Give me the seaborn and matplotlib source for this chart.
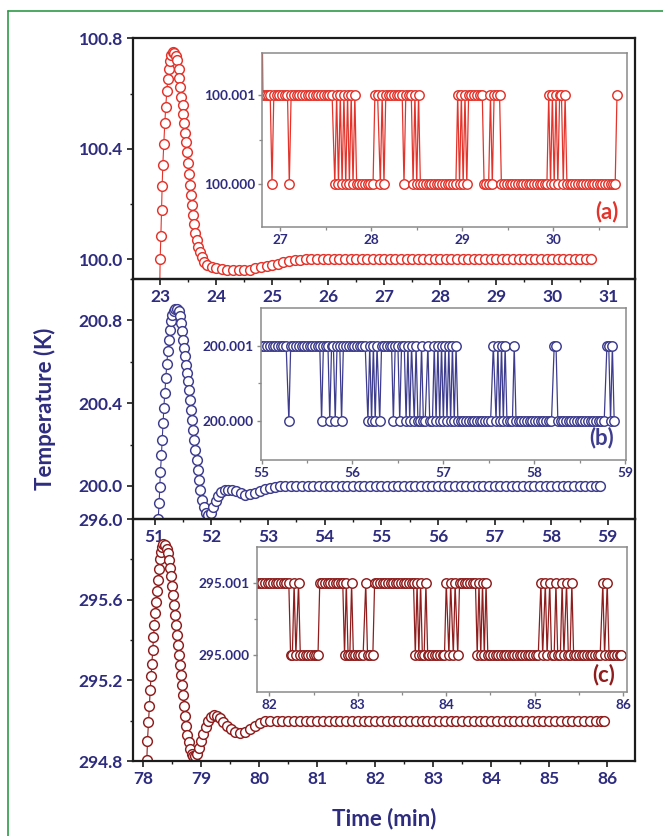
import matplotlib
matplotlib.use("Agg")
import matplotlib.pyplot as plt
from matplotlib.lines import Line2D
from matplotlib.ticker import MultipleLocator, FixedLocator, FormatStrFormatter
import pandas as pd
import seaborn as sns

# ---------------- data ----------------
# panel (a): main response, time (min) / temperature (K)
a_t = [22.990, 23.000, 23.013, 23.025, 23.036, 23.048, 23.065, 23.083, 23.100, 23.120,
       23.137, 23.155, 23.173, 23.196, 23.226, 23.256, 23.286, 23.310, 23.330, 23.345,
       23.363, 23.380, 23.400, 23.417, 23.435, 23.452, 23.470, 23.488, 23.506, 23.524,
       23.540, 23.560, 23.577, 23.595, 23.613, 23.630, 23.655, 23.685, 23.714, 23.750,
       23.790, 23.845, 23.920, 24.000, 24.100, 24.200, 24.300, 24.400, 24.500, 24.600,
       24.700, 24.800, 24.900, 25.000, 25.100, 25.200, 25.300, 25.400, 25.500, 25.600,
       25.7, 25.8, 25.9, 26.0, 26.1, 26.2, 26.3, 26.4, 26.5, 26.6,
       26.7, 26.8, 26.9, 27.0, 27.1, 27.2, 27.3, 27.4, 27.5, 27.6,
       27.7, 27.8, 27.9, 28.0, 28.1, 28.2, 28.3, 28.4, 28.5, 28.6,
       28.7, 28.8, 28.9, 29.0, 29.1, 29.2, 29.3, 29.4, 29.5, 29.6,
       29.7, 29.8, 29.9, 30.0, 30.1, 30.2, 30.3, 30.4, 30.5, 30.6,
       30.7]
a_v = [99.850, 100.000, 100.085, 100.177, 100.267, 100.342, 100.417, 100.492, 100.553, 100.610,
       100.654, 100.688, 100.719, 100.739, 100.749, 100.747, 100.737, 100.720, 100.690, 100.658,
       100.625, 100.589, 100.557, 100.525, 100.492, 100.458, 100.424, 100.388, 100.349, 100.310,
       100.270, 100.234, 100.198, 100.161, 100.128, 100.097, 100.070, 100.046, 100.025, 100.007,
       99.992, 99.979, 99.971, 99.967, 99.964, 99.962, 99.961, 99.961, 99.961, 99.963,
       99.967, 99.971, 99.976, 99.981, 99.985, 99.989, 99.993, 99.996, 99.999, 100.001,
       100.002, 100.003, 100.003, 100.003, 100.002, 100.002, 100.001, 100.001, 100.000, 100.000,
       100.000, 100.000, 100.000, 100.000, 100.000, 100.000, 100.000, 100.000, 100.000, 100.000,
       100.000, 100.000, 100.000, 100.000, 100.000, 100.000, 100.000, 100.000, 100.000, 100.000,
       100.000, 100.000, 100.000, 100.000, 100.000, 100.000, 100.000, 100.000, 100.000, 100.000,
       100.000, 100.000, 100.000, 100.000, 100.000, 100.000, 100.000, 100.000, 100.000, 100.000,
       100.000]

# panel (b)
b_t = [51.055, 51.059, 51.077, 51.088, 51.100, 51.118, 51.130, 51.147, 51.159, 51.177,
       51.195, 51.212, 51.230, 51.247, 51.265, 51.289, 51.312, 51.336, 51.365, 51.395,
       51.424, 51.448, 51.465, 51.483, 51.501, 51.518, 51.536, 51.554, 51.572, 51.589,
       51.607, 51.625, 51.642, 51.660, 51.678, 51.695, 51.713, 51.737, 51.760, 51.784,
       51.807, 51.837, 51.866, 51.901, 51.943, 51.984, 52.031, 52.078, 52.125, 52.178,
       52.237, 52.296, 52.355, 52.432, 52.515, 52.591, 52.680, 52.768, 52.856, 52.945,
       53.033, 53.121, 53.210, 53.298, 53.4, 53.5, 53.6, 53.7, 53.8, 53.9,
       54.0, 54.1, 54.2, 54.3, 54.4, 54.5, 54.6, 54.7, 54.8, 54.9,
       55.0, 55.1, 55.2, 55.3, 55.4, 55.5, 55.6, 55.7, 55.8, 55.9,
       56.0, 56.1, 56.2, 56.3, 56.4, 56.5, 56.6, 56.7, 56.8, 56.9,
       57.0, 57.1, 57.2, 57.3, 57.4, 57.5, 57.6, 57.7, 57.8, 57.9,
       58.0, 58.1, 58.2, 58.3, 58.4, 58.5, 58.6, 58.7, 58.8, 58.86]
b_v = [199.700, 199.839, 199.916, 199.997, 200.069, 200.150, 200.223, 200.303, 200.376, 200.448,
       200.521, 200.590, 200.650, 200.706, 200.755, 200.795, 200.827, 200.847, 200.857, 200.855,
       200.844, 200.819, 200.787, 200.747, 200.706, 200.666, 200.626, 200.586, 200.545, 200.505,
       200.465, 200.416, 200.368, 200.319, 200.271, 200.223, 200.174, 200.126, 200.077, 200.029,
       199.981, 199.932, 199.897, 199.871, 199.858, 199.871, 199.900, 199.929, 199.952, 199.971,
       199.979, 199.981, 199.979, 199.974, 199.965, 199.958, 199.961, 199.968, 199.977, 199.984,
       199.990, 199.995, 199.998, 200.000, 200.000, 200.000, 200.000, 200.000, 200.000, 200.000,
       200.000, 200.000, 200.000, 200.000, 200.000, 200.000, 200.000, 200.000, 200.000, 200.000,
       200.000, 200.000, 200.000, 200.000, 200.000, 200.000, 200.000, 200.000, 200.000, 200.000,
       200.000, 200.000, 200.000, 200.000, 200.000, 200.000, 200.000, 200.000, 200.000, 200.000,
       200.000, 200.000, 200.000, 200.000, 200.000, 200.000, 200.000, 200.000, 200.000, 200.000,
       200.000, 200.000, 200.000, 200.000, 200.000, 200.000, 200.000, 200.000, 200.000, 200.000]

# panel (c)
c_t = [78.058, 78.063, 78.075, 78.092, 78.109, 78.121, 78.138, 78.149, 78.167, 78.178,
       78.195, 78.213, 78.224, 78.241, 78.259, 78.270, 78.287, 78.305, 78.322, 78.351,
       78.379, 78.408, 78.431, 78.448, 78.466, 78.483, 78.500, 78.517, 78.534, 78.552,
       78.569, 78.586, 78.603, 78.621, 78.638, 78.655, 78.672, 78.690, 78.707, 78.724,
       78.741, 78.764, 78.787, 78.810, 78.839, 78.868, 78.902, 78.937, 78.971, 79.006,
       79.040, 79.080, 79.121, 79.167, 79.219, 79.270, 79.328, 79.385, 79.443, 79.512,
       79.586, 79.672, 79.759, 79.845, 79.931, 80.017, 80.103, 80.190, 80.300, 80.400,
       80.5, 80.6, 80.7, 80.8, 80.9, 81.0, 81.1, 81.2, 81.3, 81.4,
       81.5, 81.6, 81.7, 81.8, 81.9, 82.0, 82.1, 82.2, 82.3, 82.4,
       82.5, 82.6, 82.7, 82.8, 82.9, 83.0, 83.1, 83.2, 83.3, 83.4,
       83.5, 83.6, 83.7, 83.8, 83.9, 84.0, 84.1, 84.2, 84.3, 84.4,
       84.5, 84.6, 84.7, 84.8, 84.9, 85.0, 85.1, 85.2, 85.3, 85.4,
       85.5, 85.6, 85.7, 85.8, 85.9, 85.95]
c_v = [294.700, 294.803, 294.900, 294.992, 295.075, 295.153, 295.220, 295.283, 295.350, 295.417,
       295.475, 295.533, 295.587, 295.642, 295.700, 295.753, 295.800, 295.837, 295.862, 295.875,
       295.870, 295.853, 295.830, 295.797, 295.758, 295.717, 295.670, 295.625, 295.575, 295.525,
       295.475, 295.425, 295.375, 295.325, 295.275, 295.225, 295.175, 295.125, 295.075, 295.025,
       294.975, 294.930, 294.892, 294.858, 294.837, 294.825, 294.823, 294.837, 294.863, 294.897,
       294.933, 294.967, 294.997, 295.017, 295.027, 295.025, 295.013, 294.993, 294.973, 294.957,
       294.945, 294.940, 294.945, 294.958, 294.975, 294.988, 294.997, 295.000, 295.000, 295.000,
       295.000, 295.000, 295.000, 295.000, 295.000, 295.000, 295.000, 295.000, 295.000, 295.000,
       295.000, 295.000, 295.000, 295.000, 295.000, 295.000, 295.000, 295.000, 295.000, 295.000,
       295.000, 295.000, 295.000, 295.000, 295.000, 295.000, 295.000, 295.000, 295.000, 295.000,
       295.000, 295.000, 295.000, 295.000, 295.000, 295.000, 295.000, 295.000, 295.000, 295.000,
       295.000, 295.000, 295.000, 295.000, 295.000, 295.000, 295.000, 295.000, 295.000, 295.000,
       295.000, 295.000, 295.000, 295.000, 295.000, 295.000]

# insets: time (min) and level above the set point in mK
a_set = 100.000
a_in_t = [26.80, 26.81, 26.84, 26.87, 26.89, 26.91, 26.93, 26.96, 26.99, 27.02,
          27.05, 27.08, 27.10, 27.12, 27.15, 27.18, 27.21, 27.24, 27.27, 27.30,
          27.33, 27.36, 27.39, 27.42, 27.45, 27.48, 27.51, 27.54, 27.57, 27.60,
          27.62, 27.64, 27.66, 27.68, 27.70, 27.72, 27.74, 27.76, 27.78, 27.80,
          27.82, 27.84, 27.87, 27.90, 27.93, 27.96, 27.99, 28.02, 28.04, 28.07,
          28.10, 28.12, 28.14, 28.16, 28.19, 28.22, 28.25, 28.28, 28.31, 28.34,
          28.36, 28.38, 28.41, 28.44, 28.46, 28.48, 28.50, 28.52, 28.54, 28.57,
          28.60, 28.63, 28.66, 28.69, 28.72, 28.75, 28.78, 28.81, 28.84, 28.87,
          28.90, 28.93, 28.95, 28.97, 28.99, 29.01, 29.03, 29.05, 29.07, 29.10,
          29.13, 29.16, 29.19, 29.22, 29.24, 29.26, 29.29, 29.31, 29.33, 29.35,
          29.38, 29.41, 29.43, 29.46, 29.49, 29.52, 29.55, 29.58, 29.61, 29.64,
          29.67, 29.70, 29.73, 29.76, 29.79, 29.82, 29.85, 29.88, 29.91, 29.93,
          29.95, 29.97, 29.99, 30.01, 30.03, 30.05, 30.07, 30.09, 30.11, 30.13,
          30.15, 30.18, 30.21, 30.24, 30.27, 30.30, 30.33, 30.36, 30.39, 30.42,
          30.45, 30.48, 30.51, 30.54, 30.57, 30.60, 30.63, 30.66, 30.68, 30.70]
a_in_mk = [2, 1, 1, 1, 1, 0, 1, 1, 1, 1,
           1, 1, 0, 1, 1, 1, 1, 1, 1, 1,
           1, 1, 1, 1, 1, 1, 1, 1, 1, 0,
           1, 0, 1, 0, 1, 0, 1, 0, 1, 0,
           1, 0, 0, 0, 0, 0, 0, 0, 1, 1,
           0, 1, 0, 1, 1, 1, 1, 1, 1, 1,
           0, 1, 1, 1, 0, 1, 0, 1, 0, 0,
           0, 0, 0, 0, 0, 0, 0, 0, 0, 0,
           0, 0, 1, 0, 1, 0, 1, 0, 1, 1,
           1, 1, 1, 1, 0, 0, 0, 1, 0, 1,
           1, 1, 0, 0, 0, 0, 0, 0, 0, 0,
           0, 0, 0, 0, 0, 0, 0, 0, 0, 0,
           1, 0, 1, 0, 1, 0, 1, 1, 0, 1,
           0, 0, 0, 0, 0, 0, 0, 0, 0, 0,
           0, 0, 0, 0, 0, 0, 0, 0, 0, 1]

b_set = 200.000
b_in_t = [55.00, 55.03, 55.06, 55.09, 55.12, 55.15, 55.18, 55.21, 55.24, 55.27,
          55.30, 55.32, 55.35, 55.38, 55.41, 55.44, 55.47, 55.50, 55.53, 55.56,
          55.59, 55.62, 55.64, 55.66, 55.68, 55.71, 55.73, 55.75, 55.77, 55.79,
          55.81, 55.83, 55.86, 55.88, 55.90, 55.93, 55.96, 55.99, 56.02, 56.05,
          56.08, 56.11, 56.14, 56.17, 56.19, 56.21, 56.23, 56.25, 56.27, 56.30,
          56.32, 56.35, 56.38, 56.41, 56.43, 56.45, 56.47, 56.50, 56.52, 56.54,
          56.57, 56.59, 56.61, 56.63, 56.65, 56.68, 56.70, 56.72, 56.74, 56.76,
          56.78, 56.80, 56.83, 56.85, 56.88, 56.90, 56.92, 56.94, 56.96, 56.98,
          57.00, 57.02, 57.04, 57.06, 57.08, 57.10, 57.12, 57.14, 57.16, 57.19,
          57.22, 57.25, 57.28, 57.31, 57.34, 57.37, 57.40, 57.43, 57.46, 57.49,
          57.52, 57.55, 57.58, 57.60, 57.62, 57.64, 57.66, 57.68, 57.70, 57.73,
          57.76, 57.78, 57.80, 57.83, 57.86, 57.89, 57.92, 57.95, 57.98, 58.01,
          58.04, 58.07, 58.10, 58.13, 58.16, 58.19, 58.22, 58.24, 58.26, 58.29,
          58.32, 58.35, 58.38, 58.41, 58.44, 58.47, 58.50, 58.53, 58.56, 58.59,
          58.62, 58.65, 58.68, 58.71, 58.74, 58.77, 58.80, 58.82, 58.84, 58.86,
          58.88]
b_in_mk = [1, 1, 1, 1, 1, 1, 1, 1, 1, 1,
           0, 1, 1, 1, 1, 1, 1, 1, 1, 1,
           1, 1, 1, 0, 1, 1, 1, 0, 1, 1,
           0, 1, 1, 0, 1, 1, 1, 1, 1, 1,
           1, 1, 1, 0, 1, 0, 1, 0, 1, 0,
           1, 1, 1, 1, 1, 0, 1, 1, 0, 1,
           1, 0, 1, 0, 1, 0, 1, 0, 0, 1,
           0, 0, 1, 0, 0, 1, 0, 1, 0, 1,
           0, 1, 0, 1, 0, 1, 0, 1, 0, 0,
           0, 0, 0, 0, 0, 0, 0, 0, 0, 0,
           0, 1, 0, 1, 0, 1, 0, 1, 0, 0,
           0, 1, 0, 0, 0, 0, 0, 0, 0, 0,
           0, 0, 0, 0, 0, 0, 1, 1, 0, 0,
           0, 0, 0, 0, 0, 0, 0, 0, 0, 0,
           0, 0, 0, 0, 0, 0, 1, 1, 0, 1,
           0]

c_set = 295.000
c_in_t = [81.86, 81.89, 81.92, 81.95, 81.98, 82.01, 82.04, 82.07, 82.10, 82.13,
          82.16, 82.19, 82.22, 82.24, 82.26, 82.28, 82.30, 82.33, 82.35, 82.38,
          82.41, 82.44, 82.47, 82.50, 82.53, 82.55, 82.57, 82.60, 82.63, 82.66,
          82.69, 82.72, 82.75, 82.78, 82.81, 82.83, 82.85, 82.87, 82.89, 82.91,
          82.93, 82.95, 82.97, 83.00, 83.03, 83.06, 83.09, 83.11, 83.14, 83.17,
          83.19, 83.22, 83.25, 83.28, 83.31, 83.34, 83.37, 83.40, 83.43, 83.46,
          83.49, 83.52, 83.55, 83.58, 83.61, 83.63, 83.65, 83.67, 83.69, 83.71,
          83.73, 83.75, 83.77, 83.79, 83.81, 83.84, 83.87, 83.90, 83.93, 83.96,
          83.98, 84.00, 84.03, 84.05, 84.08, 84.10, 84.13, 84.15, 84.18, 84.21,
          84.24, 84.27, 84.30, 84.33, 84.35, 84.37, 84.39, 84.41, 84.43, 84.45,
          84.47, 84.50, 84.53, 84.56, 84.59, 84.62, 84.65, 84.68, 84.71, 84.74,
          84.77, 84.80, 84.83, 84.86, 84.89, 84.92, 84.95, 84.98, 85.01, 85.04,
          85.07, 85.09, 85.12, 85.14, 85.17, 85.19, 85.22, 85.24, 85.26, 85.29,
          85.31, 85.33, 85.36, 85.38, 85.40, 85.42, 85.44, 85.47, 85.50, 85.53,
          85.56, 85.59, 85.62, 85.65, 85.68, 85.71, 85.74, 85.77, 85.79, 85.82,
          85.84, 85.87, 85.90, 85.93, 85.96, 85.98]
c_in_mk = [1, 1, 1, 1, 1, 1, 1, 1, 1, 1,
           1, 1, 1, 0, 0, 1, 0, 1, 0, 0,
           0, 0, 0, 0, 0, 0, 1, 1, 1, 1,
           1, 1, 1, 1, 1, 1, 0, 1, 0, 0,
           1, 0, 0, 0, 0, 0, 1, 0, 0, 0,
           1, 1, 1, 1, 1, 1, 1, 1, 1, 1,
           1, 1, 1, 1, 1, 1, 0, 1, 0, 1,
           0, 0, 1, 0, 0, 0, 0, 0, 0, 0,
           0, 1, 0, 1, 0, 1, 0, 1, 1, 1,
           1, 1, 1, 1, 0, 1, 0, 1, 0, 1,
           0, 0, 0, 0, 0, 0, 0, 0, 0, 0,
           0, 0, 0, 0, 0, 0, 0, 0, 0, 0,
           1, 0, 1, 0, 1, 0, 0, 1, 0, 0,
           1, 0, 1, 0, 0, 1, 0, 0, 0, 0,
           0, 0, 0, 0, 0, 0, 0, 1, 0, 1,
           0, 0, 0, 0, 0, 0]

main_xticks = {"a": [23, 24, 25, 26, 27, 28, 29, 30, 31],
               "b": [51, 52, 53, 54, 55, 56, 57, 58, 59],
               "c": [78, 79, 80, 81, 82, 83, 84, 85, 86]}
main_yticks = {"a": [100.0, 100.4, 100.8],
               "b": [200.0, 200.4, 200.8],
               "c": [294.8, 295.2, 295.6, 296.0]}
inset_xticks = {"a": [27, 28, 29, 30],
                "b": [55, 56, 57, 58, 59],
                "c": [82, 83, 84, 85, 86]}
panel_tags = ["(a)", "(b)", "(c)"]

# ---------------- style ----------------
sns.set_style("ticks")
plt.rcParams["font.family"] = ["Lato", "DejaVu Sans"]
plt.rcParams["font.weight"] = "bold"

RED = "#e3342b"
BLUE = "#3d3c8e"
BROWN = "#8f1d1d"
NAVY = "#2e2c7e"
SPINE = "#1c1c1c"
GREY = "#8a8a8a"

fig = plt.figure(figsize=(6.63, 8.36), dpi=100)
fig.patch.set_facecolor("white")

W, H = 663.0, 836.0


def frac(l, t, r, b):
    return [l / W, 1 - b / H, (r - l) / W, (b - t) / H]


main_boxes = [frac(132.7, 38.3, 635, 279), frac(132.7, 279, 635, 519),
              frac(132.7, 519, 635, 761)]
main_xlim = [(22.51, 31.48), (50.61, 59.48), (77.82, 86.48)]
main_ylim = [(99.929, 100.8), (199.84, 201.0), (294.8, 296.0)]
inset_boxes = [frac(262, 53, 627, 227), frac(260.7, 308.3, 626, 460),
               frac(256.7, 547.3, 626.7, 691.7)]
inset_xlim = [(26.80, 30.81), (54.99, 59.01), (81.857, 86.04)]
inset_ylim = [(99.99952, 100.00147), (199.999482, 200.0014966),
              (294.99949, 295.0015)]
tag_pos = [(0.945, 0.09), (0.933, 0.145), (0.939, 0.118)]

colors = [RED, BLUE, BROWN]
mains = [(a_t, a_v), (b_t, b_v), (c_t, c_v)]
insets = [(a_in_t, a_in_mk, a_set), (b_in_t, b_in_mk, b_set),
          (c_in_t, c_in_mk, c_set)]
keys = ["a", "b", "c"]


def series(ax, t, v, color, ms, lw):
    df = pd.DataFrame({"t": t, "v": v})
    sns.lineplot(data=df, x="t", y="v", ax=ax, color=color, lw=lw,
                 marker="o", markersize=ms, markeredgewidth=1.05,
                 markeredgecolor=color, markerfacecolor="white",
                 estimator=None, sort=False)
    for ln in ax.lines:
        ln.set_markerfacecolor("white")
    ax.set_xlabel("")
    ax.set_ylabel("")


main_axes = []
for i, k in enumerate(keys):
    ax = fig.add_axes(main_boxes[i])
    ax.set_facecolor("none")
    series(ax, mains[i][0], mains[i][1], colors[i], 7.0, 0.8)
    ax.set_xlim(*main_xlim[i])
    ax.set_ylim(*main_ylim[i])
    ax.set_xticks(main_xticks[k])
    ax.set_yticks(main_yticks[k])
    ax.xaxis.set_major_formatter(FormatStrFormatter("%d"))
    ax.yaxis.set_major_formatter(FormatStrFormatter("%.1f"))
    ax.xaxis.set_minor_locator(MultipleLocator(0.5))
    ax.yaxis.set_minor_locator(MultipleLocator(0.2))
    for s in ax.spines.values():
        s.set_visible(True)
        s.set_linewidth(1.6)
        s.set_color(SPINE)
    ax.tick_params(which="major", direction="out", length=4, width=1.2,
                   color=SPINE, labelcolor=NAVY, labelsize=12.5, pad=3)
    ax.tick_params(which="minor", direction="out", length=2.5, width=1.0,
                   color=SPINE)
    main_axes.append(ax)

for i, k in enumerate(keys):
    ax = fig.add_axes(inset_boxes[i])
    ax.set_facecolor("white")
    t, mk, base = insets[i]
    v = [base + 0.001 * m for m in mk]
    series(ax, t, v, colors[i], 6.8, 0.9)
    ax.set_xlim(*inset_xlim[i])
    ax.set_ylim(*inset_ylim[i])
    ax.set_xticks(inset_xticks[k])
    ax.set_yticks([base, base + 0.001])
    ax.xaxis.set_major_formatter(FormatStrFormatter("%d"))
    ax.yaxis.set_major_formatter(FormatStrFormatter("%.3f"))
    ax.xaxis.set_minor_locator(MultipleLocator(0.5))
    ax.yaxis.set_minor_locator(FixedLocator([base + 0.0005]))
    for s in ax.spines.values():
        s.set_visible(True)
        s.set_linewidth(1.1)
        s.set_color(GREY)
    ax.tick_params(which="major", direction="out", length=3, width=1.0,
                   color=GREY, labelcolor=NAVY, labelsize=9.8, pad=2)
    ax.tick_params(which="minor", direction="out", length=2, width=0.9,
                   color=GREY)
    ax.text(tag_pos[i][0], tag_pos[i][1], panel_tags[i], transform=ax.transAxes,
            ha="center", va="center", color=colors[i], fontsize=16,
            fontweight="bold")

fig.text(0.068, 0.511, "Temperature (K)", rotation=90, ha="center",
         va="center", color=NAVY, fontsize=16, fontweight="bold")
fig.text(0.580, 0.0215, "Time (min)", ha="center", va="center", color=NAVY,
         fontsize=16, fontweight="bold")

# thin green frame (top and left edges)
fig.add_artist(Line2D([8 / W, 1.0], [1 - 11 / H, 1 - 11 / H],
                      transform=fig.transFigure, color="#2f9a48", lw=1.2))
fig.add_artist(Line2D([8 / W, 8 / W], [0.0, 1 - 11 / H],
                      transform=fig.transFigure, color="#2f9a48", lw=1.2))

fig.savefig("out.png", dpi=100, facecolor="white")
